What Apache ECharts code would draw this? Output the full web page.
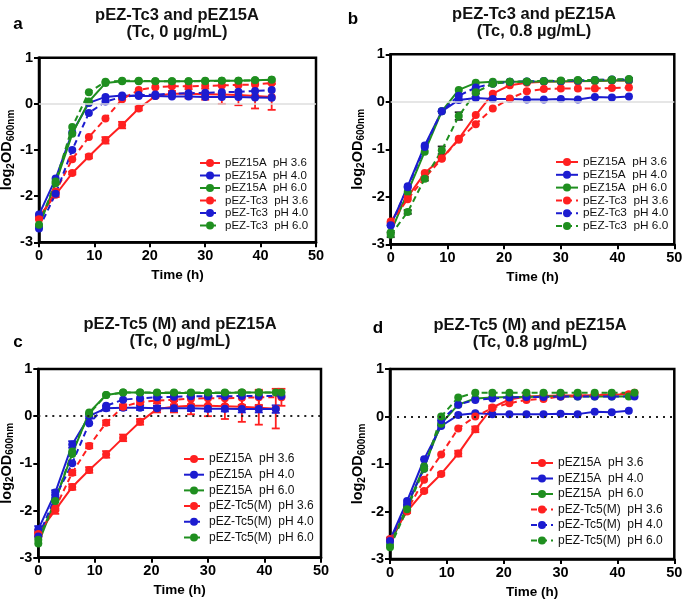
<!DOCTYPE html>
<html>
<head>
<meta charset="utf-8">
<script src="https://cdn.jsdelivr.net/npm/echarts@6/dist/echarts.min.js"></script>
<style>html,body{margin:0;padding:0;background:#fff}#c{width:685px;height:602px}</style>
</head>
<body>
<div id="c"></div>
<script>
// ---- time points (h) ----
const timeAB = [0,3,6,9,12,15,18,21,24,27,30,33,36,39,42];
const time15A_CD = [0,3,6,9,12,15,18,21,24,27,30,33,36,39,42];
const timeTc5_CD = [0,3,6,9,12,15,18,21,24,27,30,33,36,39,43];

// ---- tick labels ----
const xTicks = [0,10,20,30,40,50];
const yTicks = [-3,-2,-1,0,1];

// ---- legend names ----
const namesAB = ['pEZ15A  pH 3.6','pEZ15A  pH 4.0','pEZ15A  pH 6.0','pEZ-Tc3  pH 3.6','pEZ-Tc3  pH 4.0','pEZ-Tc3  pH 6.0'];
const namesCD = ['pEZ15A  pH 3.6','pEZ15A  pH 4.0','pEZ15A  pH 6.0','pEZ-Tc5(M)  pH 3.6','pEZ-Tc5(M)  pH 4.0','pEZ-Tc5(M)  pH 6.0'];

// ---- panel titles ----
const titles = [
  ['pEZ-Tc3 and pEZ15A','(Tc, 0 µg/mL)'],
  ['pEZ-Tc3 and pEZ15A','(Tc, 0.8 µg/mL)'],
  ['pEZ-Tc5 (M) and pEZ15A','(Tc, 0 µg/mL)'],
  ['pEZ-Tc5 (M) and pEZ15A','(Tc, 0.8 µg/mL)']
];
const letters = ['a','b','c','d'];

// ---- panel a ----
const a_15A_36 = [-2.45,-1.97,-1.5,-1.14,-0.79,-0.46,-0.1,0.17,0.22,0.22,0.21,0.2,0.19,0.17,0.15];
const a_15A_36_err = [0.05,0.05,0.03,0.04,0.07,0.07,0.04,0.03,0.06,0.1,0.12,0.2,0.22,0.27,0.28];
const a_15A_40 = [-2.4,-1.62,-0.62,0.02,0.15,0.18,0.17,0.17,0.16,0.16,0.15,0.15,0.15,0.14,0.13];
const a_15A_60 = [-2.65,-1.72,-0.65,0.05,0.45,0.49,0.49,0.49,0.49,0.49,0.5,0.5,0.5,0.51,0.52];
const a_Tc3_36 = [-2.5,-1.9,-1.2,-0.72,-0.32,0.1,0.3,0.36,0.38,0.38,0.39,0.4,0.41,0.42,0.45];
const a_Tc3_40 = [-2.7,-1.95,-1.0,-0.2,0.05,0.15,0.19,0.2,0.22,0.23,0.24,0.25,0.26,0.28,0.3];
const a_Tc3_60 = [-2.62,-1.68,-0.5,0.25,0.48,0.5,0.5,0.49,0.49,0.49,0.49,0.5,0.5,0.51,0.52];

// ---- panel b ----
const b_15A_36 = [-2.52,-2.0,-1.5,-1.19,-0.78,-0.28,0.17,0.35,0.4,0.42,0.43,0.43,0.44,0.45,0.45];
const b_15A_40 = [-2.6,-1.78,-0.92,-0.2,0.04,0.08,0.06,0.06,0.05,0.05,0.06,0.05,0.1,0.09,0.11];
const b_15A_60 = [-2.75,-1.9,-1.05,-0.2,0.25,0.4,0.42,0.42,0.42,0.43,0.43,0.44,0.44,0.45,0.45];
const b_Tc3_36 = [-2.55,-2.05,-1.6,-1.2,-0.8,-0.47,-0.14,0.07,0.22,0.27,0.28,0.28,0.28,0.29,0.3];
const b_Tc3_40 = [-2.6,-1.8,-0.95,-0.2,0.13,0.3,0.38,0.42,0.43,0.44,0.44,0.45,0.46,0.47,0.47];
const b_Tc3_60 = [-2.8,-2.32,-1.62,-1.02,-0.3,0.2,0.38,0.42,0.43,0.44,0.45,0.46,0.46,0.47,0.48];
const b_Tc3_60_err = [0.05,0.04,0.04,0.08,0.08,0.03,0.02,0.02,0.02,0.02,0.02,0.02,0.02,0.02,0.02];

// ---- panel c ----
const c_15A_36 = [-2.48,-1.99,-1.5,-1.14,-0.81,-0.46,-0.12,0.15,0.2,0.22,0.22,0.21,0.2,0.18,0.16];
const c_15A_36_err = [0.07,0.08,0.06,0.06,0.07,0.07,0.06,0.07,0.12,0.18,0.22,0.27,0.32,0.36,0.42];
const c_15A_40 = [-2.4,-1.62,-0.6,0.0,0.17,0.18,0.18,0.17,0.17,0.17,0.16,0.16,0.15,0.15,0.15];
const c_15A_40_err = [0.07,0.05,0.07,0.05,0.05,0.05,0.05,0.05,0.06,0.06,0.06,0.06,0.07,0.07,0.08];
const c_15A_60 = [-2.7,-1.78,-0.8,0.08,0.45,0.5,0.5,0.49,0.49,0.49,0.49,0.49,0.5,0.5,0.5];
const c_Tc5_36 = [-2.5,-1.95,-1.2,-0.63,-0.14,0.2,0.3,0.33,0.35,0.37,0.38,0.38,0.39,0.4,0.4];
const c_Tc5_36_err = [0.05,0.05,0.05,0.05,0.05,0.05,0.05,0.06,0.1,0.12,0.14,0.14,0.15,0.16,0.18];
const c_Tc5_40 = [-2.55,-1.72,-1.0,-0.15,0.22,0.35,0.38,0.4,0.41,0.42,0.42,0.42,0.43,0.43,0.43];
const c_Tc5_60 = [-2.62,-1.8,-0.75,0.05,0.45,0.5,0.5,0.5,0.5,0.5,0.5,0.5,0.5,0.5,0.5];

// ---- panel d ----
const d_15A_36 = [-2.58,-2.0,-1.57,-1.21,-0.78,-0.27,0.19,0.36,0.42,0.43,0.44,0.44,0.45,0.46,0.47];
const d_15A_36_err = [0.03,0.03,0.03,0.03,0.06,0.06,0.04,0.03,0.03,0.03,0.03,0.03,0.03,0.03,0.03];
const d_15A_40 = [-2.6,-1.78,-0.9,-0.2,0.03,0.07,0.05,0.05,0.05,0.05,0.06,0.05,0.1,0.09,0.12];
const d_15A_60 = [-2.7,-1.9,-1.05,-0.15,0.25,0.38,0.4,0.41,0.41,0.42,0.42,0.42,0.42,0.42,0.42];
const d_Tc5_36 = [-2.6,-1.98,-1.33,-0.8,-0.25,0.0,0.18,0.28,0.35,0.37,0.42,0.43,0.45,0.47,0.5];
const d_Tc5_40 = [-2.62,-1.85,-1.1,-0.08,0.25,0.35,0.38,0.4,0.41,0.41,0.42,0.42,0.42,0.42,0.42];
const d_Tc5_60 = [-2.75,-1.95,-1.1,0.0,0.4,0.5,0.5,0.5,0.5,0.5,0.5,0.5,0.5,0.5,0.5];

// ---- styling ----
const RED = '#ff2020', BLUE = '#1c1cd0', GREEN = '#1f8f1f';
const FONT = 'Liberation Sans, Arial, sans-serif';

const grids = [
  {left:39, top:57.7, width:277, height:184.6},
  {left:390.7, top:54.3, width:283.6, height:190},
  {left:38.3, top:369, width:282.7, height:188.7},
  {left:390, top:369, width:284.3, height:190}
];
const yNameGap = [21, 24, 20, 20];

function zeroLine(gi){
  const dotted = gi >= 2;
  return {type:'line', xAxisIndex:gi, yAxisIndex:gi, data:[], silent:true, z:1,
    markLine:{silent:true, symbol:'none', label:{show:false}, animation:false,
      lineStyle: dotted ? {color:'#222', width:2, type:[2,5]} : {color:'#dedede', width:1.5, type:'solid'},
      data:[{yAxis:0}]}};
}
function lineSeries(gi, name, xs, ys, color, dashed){
  return {type:'line', name, xAxisIndex:gi, yAxisIndex:gi,
    data: xs.map((x,i)=>[x, ys[i]]), symbol:'circle', symbolSize:8, showSymbol:true,
    lineStyle:{color, width:2, type: dashed ? [6,4] : 'solid'},
    itemStyle:{color}, z:3, animation:false};
}
function errSeries(gi, xs, ys, errs, color){
  return {type:'custom', xAxisIndex:gi, yAxisIndex:gi, silent:true, z:2, animation:false,
    data: xs.map((x,i)=>[x, ys[i], errs[i]]),
    renderItem:(params, api)=>{
      const x = api.value(0), y = api.value(1), e = api.value(2);
      const t = api.coord([x, y+e]), b = api.coord([x, y-e]);
      const w = 4, st = {stroke:color, lineWidth:1.8};
      return {type:'group', children:[
        {type:'line', shape:{x1:t[0], y1:t[1], x2:b[0], y2:b[1]}, style:st},
        {type:'line', shape:{x1:t[0]-w, y1:t[1], x2:t[0]+w, y2:t[1]}, style:st},
        {type:'line', shape:{x1:b[0]-w, y1:b[1], x2:b[0]+w, y2:b[1]}, style:st}
      ]};
    }};
}

const xAxes = grids.map((g,gi)=>({gridIndex:gi, type:'value', min:xTicks[0], max:xTicks[xTicks.length-1], interval:10,
  axisLine:{show:true, onZero:false, lineStyle:{color:'#000', width:2.5}},
  axisTick:{show:true, length:5, lineStyle:{color:'#000', width:2}},
  axisLabel:{color:'#000', fontWeight:'bold', fontSize:14.5, margin:6, fontFamily:FONT},
  splitLine:{show:false},
  name:'Time (h)', nameLocation:'middle', nameGap:26,
  nameTextStyle:{color:'#000', fontWeight:'bold', fontSize:13.5, fontFamily:FONT}}));
const yAxes = grids.map((g,gi)=>({gridIndex:gi, type:'value', min:yTicks[0], max:yTicks[yTicks.length-1], interval:1,
  axisLine:{show:true, onZero:false, lineStyle:{color:'#000', width:2.5}},
  axisTick:{show:true, length:5, lineStyle:{color:'#000', width:2}},
  axisLabel:{color:'#000', fontWeight:'bold', fontSize:14.5, margin:6, fontFamily:FONT},
  splitLine:{show:false},
  name:'{m|log}{s|2}{m|OD}{s|600nm}', nameLocation:'middle', nameGap:yNameGap[gi], nameRotate:90,
  nameTextStyle:{color:'#000', rich:{
    m:{fontSize:14.5, fontWeight:'bold', fontFamily:FONT, color:'#000', lineHeight:18},
    s:{fontSize:10, fontWeight:'bold', fontFamily:FONT, color:'#000', lineHeight:10, verticalAlign:'bottom'}
  }}}));

const series = [];
[0,1,2,3].forEach(gi=>series.push(zeroLine(gi)));
// panel a
series.push(errSeries(0, timeAB, a_15A_36, a_15A_36_err, RED));
series.push(lineSeries(0, namesAB[0], timeAB, a_15A_36, RED, false));
series.push(lineSeries(0, namesAB[1], timeAB, a_15A_40, BLUE, false));
series.push(lineSeries(0, namesAB[2], timeAB, a_15A_60, GREEN, false));
series.push(lineSeries(0, namesAB[3], timeAB, a_Tc3_36, RED, true));
series.push(lineSeries(0, namesAB[4], timeAB, a_Tc3_40, BLUE, true));
series.push(lineSeries(0, namesAB[5], timeAB, a_Tc3_60, GREEN, true));
// panel b
series.push(errSeries(1, timeAB, b_Tc3_60, b_Tc3_60_err, '#222'));
series.push(lineSeries(1, namesAB[0], timeAB, b_15A_36, RED, false));
series.push(lineSeries(1, namesAB[1], timeAB, b_15A_40, BLUE, false));
series.push(lineSeries(1, namesAB[2], timeAB, b_15A_60, GREEN, false));
series.push(lineSeries(1, namesAB[3], timeAB, b_Tc3_36, RED, true));
series.push(lineSeries(1, namesAB[4], timeAB, b_Tc3_40, BLUE, true));
series.push(lineSeries(1, namesAB[5], timeAB, b_Tc3_60, GREEN, true));
// panel c
series.push(errSeries(2, time15A_CD, c_15A_36, c_15A_36_err, RED));
series.push(errSeries(2, time15A_CD, c_15A_40, c_15A_40_err, BLUE));
series.push(errSeries(2, timeTc5_CD, c_Tc5_36, c_Tc5_36_err, RED));
series.push(lineSeries(2, namesCD[0], time15A_CD, c_15A_36, RED, false));
series.push(lineSeries(2, namesCD[1], time15A_CD, c_15A_40, BLUE, false));
series.push(lineSeries(2, namesCD[2], time15A_CD, c_15A_60, GREEN, false));
series.push(lineSeries(2, namesCD[3], timeTc5_CD, c_Tc5_36, RED, true));
series.push(lineSeries(2, namesCD[4], timeTc5_CD, c_Tc5_40, BLUE, true));
series.push(lineSeries(2, namesCD[5], timeTc5_CD, c_Tc5_60, GREEN, true));
// panel d
series.push(errSeries(3, time15A_CD, d_15A_36, d_15A_36_err, RED));
series.push(lineSeries(3, namesCD[0], time15A_CD, d_15A_36, RED, false));
series.push(lineSeries(3, namesCD[1], time15A_CD, d_15A_40, BLUE, false));
series.push(lineSeries(3, namesCD[2], time15A_CD, d_15A_60, GREEN, false));
series.push(lineSeries(3, namesCD[3], timeTc5_CD, d_Tc5_36, RED, true));
series.push(lineSeries(3, namesCD[4], timeTc5_CD, d_Tc5_40, BLUE, true));
series.push(lineSeries(3, namesCD[5], timeTc5_CD, d_Tc5_60, GREEN, true));

function legend(names, left, top, iw, gap, fs){
  return {orient:'vertical', left, top, itemWidth:iw, itemHeight:10, itemGap:gap, itemTextGap:4,
    selectedMode:false, data:names, padding:0,
    textStyle:{fontSize:fs, color:'#111', fontFamily:FONT, padding:[0,0,0,0]}};
}
const legends = [
  legend(namesAB, 199, 157, 20, 0.5, 11.5),
  legend(namesAB, 555, 156, 22, 0.8, 11.8),
  legend(namesCD, 183, 453, 20, 3.7, 12),
  legend(namesCD, 530, 457, 22, 3.5, 12)
];

// titles & panel letters
const titlePos = [
  {x:177, y1:15, y2:32.5}, {x:534, y1:14.5, y2:31}, {x:180, y1:324.5, y2:341.5}, {x:530, y1:325.5, y2:342.5}
];
const letterPos = [{x:18, y:24}, {x:353, y:19}, {x:18, y:342}, {x:378, y:328}];
const graphics = [];
titlePos.forEach((p,i)=>{
  graphics.push({type:'text', x:p.x, y:p.y1, silent:true, style:{text:titles[i][0], font:'bold 16.5px '+FONT, fill:'#111', align:'center', verticalAlign:'middle', textAlign:'center', textVerticalAlign:'middle'}});
  graphics.push({type:'text', x:p.x, y:p.y2, silent:true, style:{text:titles[i][1], font:'bold 16.5px '+FONT, fill:'#111', align:'center', verticalAlign:'middle', textAlign:'center', textVerticalAlign:'middle'}});
  graphics.push({type:'text', x:letterPos[i].x, y:letterPos[i].y, silent:true, style:{text:letters[i], font:'bold 17px '+FONT, fill:'#000', align:'center', verticalAlign:'middle', textAlign:'center', textVerticalAlign:'middle'}});
});

const chart = echarts.init(document.getElementById('c'), null, {renderer:'canvas'});
chart.setOption({
  animation:false,
  backgroundColor:'#fff',
  grid: grids.map(g=>Object.assign({show:true, borderColor:'#000', borderWidth:2.5, backgroundColor:'transparent', containLabel:false, outerBoundsMode:'none'}, g)),
  xAxis: xAxes,
  yAxis: yAxes,
  legend: legends,
  series,
  graphic: graphics
});
</script>
</body>
</html>
